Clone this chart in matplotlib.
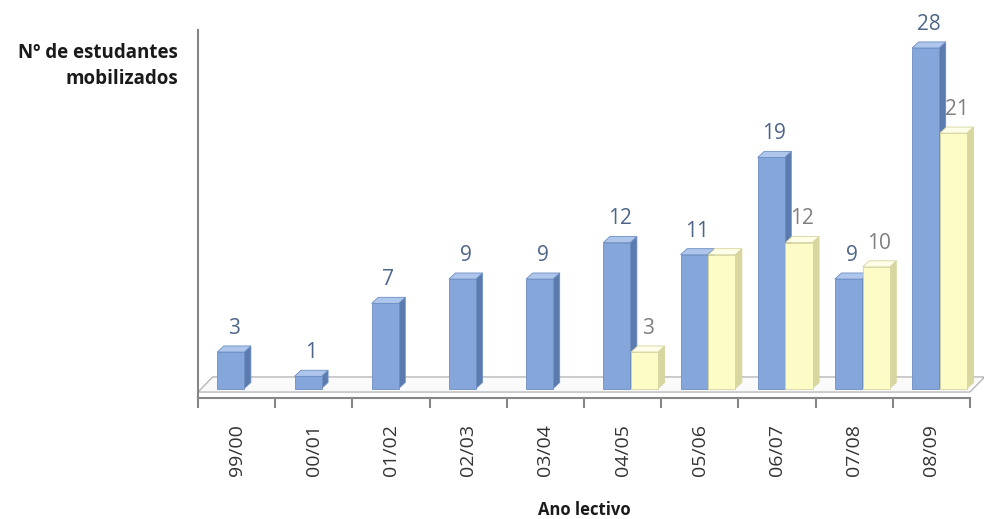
import matplotlib.pyplot as plt
from matplotlib.patches import Polygon, Rectangle

# data
years = ["99/00", "00/01", "01/02", "02/03", "03/04",
         "04/05", "05/06", "06/07", "07/08", "08/09"]
blue_vals = [3, 1, 7, 9, 9, 12, 11, 19, 9, 28]
yellow_vals = [None, None, None, None, None, 3, 11, 12, 10, 21]
yellow_labels = ["", "", "", "", "", "3", "", "12", "10", "21"]

plt.rcParams["font.family"] = ["Open Sans", "DejaVu Sans"]

BLUE = {"front": "#84a6db", "side": "#5b7aad", "top": "#aec6ec", "edge": "#6d8ec2"}
YELLOW = {"front": "#fdfcc6", "side": "#d9d7a0", "top": "#fffee8", "edge": "#d6d4a0"}

W = 0.35      # bar width (category units)
DX = 0.085    # depth offset x
DY = 0.5      # depth offset y


def bar3d(ax, left, h, c):
    right = left + W
    side = Polygon([(right, 0), (right + DX, DY), (right + DX, h + DY), (right, h)],
                   closed=True, fc=c["side"], ec=c["edge"], lw=0.6, clip_on=False, zorder=3)
    top = Polygon([(left, h), (right, h), (right + DX, h + DY), (left + DX, h + DY)],
                  closed=True, fc=c["top"], ec=c["edge"], lw=0.6, clip_on=False, zorder=3)
    front = Rectangle((left, 0), W, h, fc=c["front"], ec=c["edge"], lw=0.6,
                      clip_on=False, zorder=4)
    ax.add_patch(side)
    ax.add_patch(top)
    ax.add_patch(front)


fig = plt.figure(figsize=(9.84, 5.19), dpi=100)
ax = fig.add_axes([198 / 984, (519 - 398) / 519, (970 - 198) / 984, (398 - 30) / 519])
ax.set_xlim(0, 10)
ax.set_ylim(-0.78, 29.48)

# floor
floor = Polygon([(0, -0.29), (10, -0.29), (10.19, 0.95), (0.19, 0.95)], closed=True,
                fc="#fafafa", ec="#b0b0b0", lw=0.9, clip_on=False, zorder=1)
ax.add_patch(floor)

for i in range(len(years)):
    left = i + 0.25
    bar3d(ax, left, blue_vals[i], BLUE)
    ax.annotate(str(blue_vals[i]), (left + W / 2 + DX / 2, blue_vals[i]),
                xytext=(0, 17), textcoords="offset points", ha="center", va="center",
                fontsize=15, color="#4f6588", annotation_clip=False)
    if yellow_vals[i] is not None:
        yl = left + 0.36
        bar3d(ax, yl, yellow_vals[i], YELLOW)
        if yellow_labels[i]:
            ax.annotate(yellow_labels[i], (yl + W / 2 + DX / 2, yellow_vals[i]),
                        xytext=(0, 17), textcoords="offset points", ha="center",
                        va="center", fontsize=15, color="#7f7f7f", annotation_clip=False)

for s in ["top", "right"]:
    ax.spines[s].set_visible(False)
for s in ["left", "bottom"]:
    ax.spines[s].set_color("#868686")
    ax.spines[s].set_linewidth(1.5)

ax.set_yticks([])
ax.set_xticks(range(11))
ax.set_xticklabels([])
ax.tick_params(axis="x", which="major", direction="out", length=7, width=1.5, color="#868686")
ax.set_xticks([i + 0.5 for i in range(10)], minor=True)
ax.set_xticklabels(years, minor=True, rotation=90, fontsize=14, color="#333333")
ax.tick_params(axis="x", which="minor", length=0, pad=19)

fig.text(584 / 984, 1 - 510 / 519, "Ano lectivo", ha="center", va="center",
         fontsize=12, fontweight="bold", color="#1a1a1a")
fig.text(178 / 984, 1 - 66 / 519, "Nº de estudantes\nmobilizados", ha="right", va="center",
         fontsize=13.5, fontweight="bold", color="#1a1a1a", linespacing=1.35)

fig.savefig("out.png", dpi=100)
